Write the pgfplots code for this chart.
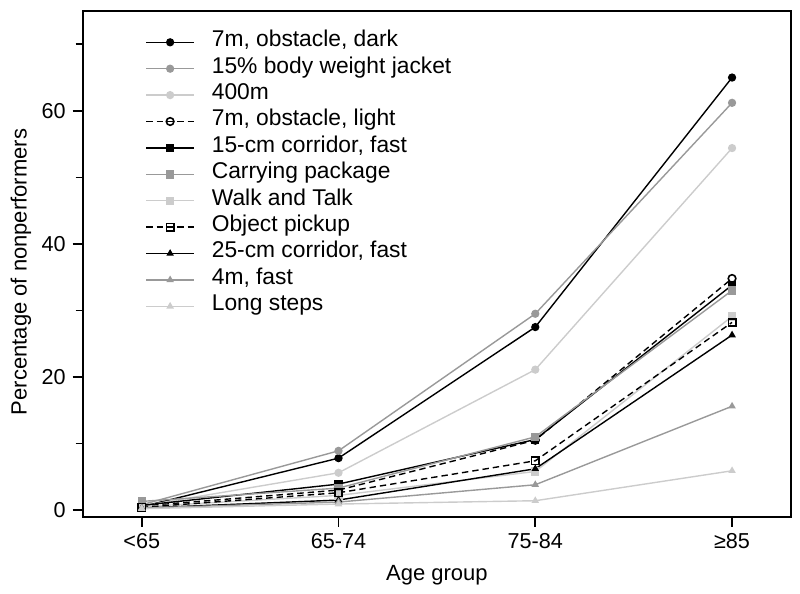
\documentclass[border=0pt]{standalone}
\usepackage{pgfplots}
\pgfplotsset{compat=1.18}
\usepackage{fontspec}
\setmainfont{Liberation Sans}
\definecolor{gA}{gray}{0.0}
\definecolor{gB}{gray}{0.6}
\definecolor{gC}{gray}{0.8}
\begin{document}
\begin{tikzpicture}
\useasboundingbox (-41.35bp,-38.65bp) rectangle (358.65bp,258.35bp);
\begin{axis}[
  at={(0,0)}, anchor=south west,
  scale only axis, width=354.2bp, height=252.85bp,
  xmin=-0.3, xmax=3.3, ymin=-1, ymax=75,
  axis line style={line width=1bp},
  xtick={0,1,2,3},
  xticklabels={<65,65-74,75-84,≥85},
  ytick={0,20,40,60},
  minor ytick={10,30,50,70},
  xtick pos=bottom, ytick pos=left,
  tick align=outside,
  major tick length=5bp, minor tick length=3.5bp,
  tick style={line width=0.8bp, black},
  /pgf/number format/assume math mode=true,
  tick label style={font=\fontsize{10.8bp}{12bp}\selectfont},
  label style={font=\fontsize{11bp}{13bp}\selectfont},
  xlabel={Age group},
  ylabel={Percentage of nonperformers},
  x label style={at={(axis description cs:0.5,-0.115)}, anchor=center},
  y label style={at={(axis description cs:-0.0871,0.484)}, anchor=center, rotate=0},
  legend cell align=left,
  legend image code/.code={\draw[mark repeat=2,mark phase=2,#1] plot coordinates {(0bp,0bp) (12bp,0bp) (24bp,0bp)};},
  legend style={at={(0.088,0.965)}, anchor=north west, draw=none, fill=none,
    inner sep=0pt, row sep=0pt, column sep=8.5bp,
    font=\fontsize{11.4bp}{13bp}\selectfont,
    nodes={inner sep=0pt, text height=8.8bp, text depth=4.4bp}},
  every axis plot/.append style={line width=0.7bp},
]
% 7m, obstacle, dark
\addplot[gA, mark=*, mark size=1.7bp] coordinates {(0,0.5) (1,7.8) (2,27.5) (3,65.0)};
% 15% body weight jacket
\addplot[gB, mark=*, mark size=1.7bp] coordinates {(0,0.8) (1,8.9) (2,29.5) (3,61.2)};
% 400m
\addplot[gC, mark=*, mark size=1.7bp] coordinates {(0,0.6) (1,5.6) (2,21.1) (3,54.4)};
% 7m, obstacle, light
\addplot[gA, dash pattern=on 3.2bp off 2bp, mark=o, mark size=1.9bp, mark options={solid, fill=white, line width=0.8bp}] coordinates {(0,0.6) (1,3.0) (2,10.5) (3,34.8)};
% 15-cm corridor, fast
\addplot[gA, mark=square*, mark size=1.75bp] coordinates {(0,0.7) (1,3.9) (2,10.6) (3,33.8)};
% Carrying package
\addplot[gB, mark=square*, mark size=1.75bp] coordinates {(0,1.3) (1,3.3) (2,11.0) (3,33.0)};
% Walk and Talk
\addplot[gC, mark=square*, mark size=1.75bp] coordinates {(0,0.5) (1,2.2) (2,5.8) (3,29.1)};
% Object pickup
\addplot[gA, dash pattern=on 3.2bp off 2bp, mark=square, mark size=1.85bp, mark options={solid, fill=white, line width=0.8bp}] coordinates {(0,0.4) (1,2.6) (2,7.4) (3,28.2)};
% 25-cm corridor, fast
\addplot[gA, mark=triangle*, mark size=1.5bp] coordinates {(0,0.3) (1,1.5) (2,6.2) (3,26.3)};
% 4m, fast
\addplot[gB, mark=triangle*, mark size=1.5bp] coordinates {(0,0.3) (1,1.2) (2,3.8) (3,15.6)};
% Long steps
\addplot[gC, mark=triangle*, mark size=1.5bp] coordinates {(0,0.2) (1,0.9) (2,1.4) (3,5.9)};
\legend{{7m, obstacle, dark},{15\% body weight jacket},400m,{7m, obstacle, light},{15-cm corridor, fast},Carrying package,Walk and Talk,Object pickup,{25-cm corridor, fast},{4m, fast},Long steps}
\end{axis}
\end{tikzpicture}
\end{document}
